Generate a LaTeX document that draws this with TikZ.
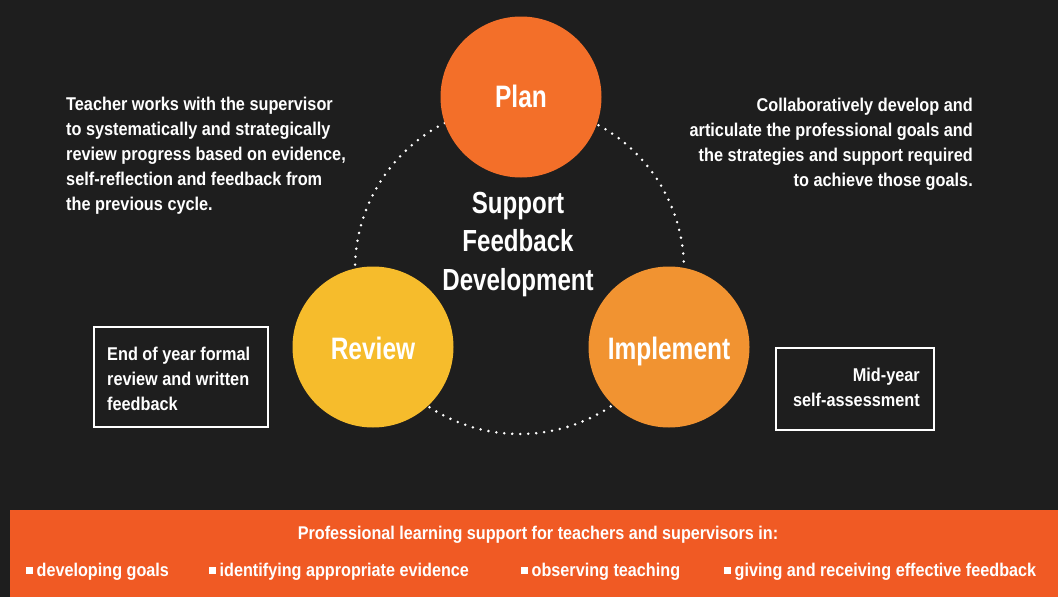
\documentclass[tikz,border=0pt]{standalone}
\usepackage{fontspec}
\setmainfont{Liberation Sans}[FakeStretch=0.88]
\newfontfamily\headfont{Liberation Sans}[FakeStretch=0.79]
\definecolor{bg}{HTML}{1E1E1E}
\definecolor{banner}{HTML}{F05A24}
\definecolor{planc}{HTML}{F36F29}
\definecolor{reviewc}{HTML}{F6BC2C}
\definecolor{implc}{HTML}{F19331}
\tikzset{
  para/.style={text=white, inner sep=0pt, font=\bfseries\fontsize{18.5}{25}\selectfont},
  stage/.style={circle, minimum size=161pt, inner sep=0pt, text=white, text height=24.6pt, text depth=0pt, font=\headfont\bfseries\fontsize{31}{36}\selectfont},
  framebox/.style={draw=white, line width=1.8pt},
  bitem/.style={text=white, inner sep=0pt, anchor=base west, font=\bfseries\fontsize{18.4}{22}\selectfont},
  cycle/.style={white, line width=2.8pt, line cap=round, dash pattern=on 0pt off 8pt}
}
\newcommand{\sqbullet}{\rule[2.5pt]{7pt}{7pt}\hspace{3.5pt}}
\begin{document}
\begin{tikzpicture}[x=1pt,y=-1pt]
\useasboundingbox (0,0) rectangle (1058,597);
\fill[bg] (0,0) rectangle (1058,597);
% cycle
\coordinate (cc) at (519.5,269.5);
\draw[cycle] (cc) circle[radius=164.5pt];
% stages
\node[stage, fill=planc, text height=20.6pt] (plan) at (521,97) {Plan};
\node[stage, fill=reviewc] (review) at (373,347) {Review};
\node[stage, fill=implc] (impl) at (669,347) {Implement};
% centre (base = last line)
\node[text=white, inner sep=0pt, align=center, anchor=base, font=\headfont\bfseries\fontsize{30.5}{38.8}\selectfont] (centre) at (518,290.7) {Support\\Feedback\\Development};
% paragraphs (base = last line)
\node[para, align=left, anchor=base west] (ptext) at (66,210.7) {Teacher works with the supervisor\\to systematically and strategically\\review progress based on evidence,\\self-reflection and feedback from\\the previous cycle.};
\node[para, align=right, anchor=base east] (itext) at (973,186.7) {Collaboratively develop and\\articulate the professional goals and\\the strategies and support required\\to achieve those goals.};
% boxes
\draw[framebox] (94,327) rectangle (268,427);
\node[para, align=left, anchor=base west] (rtext) at (107,410.7) {End of year formal\\review and written\\feedback};
\draw[framebox] (776,348) rectangle (934,430);
\node[para, align=right, anchor=base east] (mtext) at (920,406.7) {Mid-year\\self-assessment};
% banner
\fill[banner] (10,510) rectangle (1058,597);
\node[text=white, inner sep=0pt, anchor=base, font=\bfseries\fontsize{18.4}{22}\selectfont] (bhead) at (538,539) {Professional learning support for teachers and supervisors in:};
\node[bitem] (b1) at (26,576.7) {\sqbullet developing goals};
\node[bitem] (b2) at (209,576.7) {\sqbullet identifying appropriate evidence};
\node[bitem] (b3) at (521,576.7) {\sqbullet observing teaching};
\node[bitem] (b4) at (724,576.7) {\sqbullet giving and receiving effective feedback};
\end{tikzpicture}
\end{document}
